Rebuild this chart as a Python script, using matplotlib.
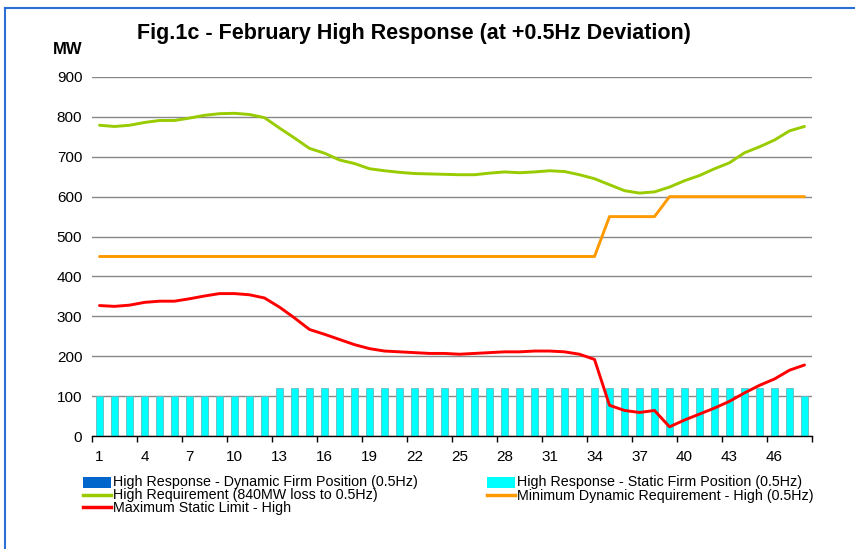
import matplotlib
matplotlib.use("Agg")
import matplotlib.pyplot as plt
from matplotlib.lines import Line2D
from matplotlib.patches import Rectangle
import numpy as np

plt.rcParams['font.family'] = ['Liberation Sans', 'DejaVu Sans']

periods = list(range(1, 49))
xtick_labels = [str(p) for p in range(1, 49, 3)]

dynamic_firm = [0] * 48
static_firm = [100] * 12 + [120] * 35 + [100]
high_requirement = [779, 776, 779, 786, 791, 791, 797, 804, 808, 809, 806, 798,
                    772, 747, 721, 709, 692, 683, 670, 665, 661, 658, 657, 656,
                    655, 655, 659, 662, 660, 662, 665, 663, 655, 645, 630, 615,
                    609, 612, 624, 640, 653, 670, 685, 710, 725, 742, 765, 776]
min_dynamic = [450] * 34 + [550] * 4 + [600] * 10
max_static = [327, 325, 328, 335, 338, 338, 344, 351, 357, 357, 354, 346,
              323, 296, 267, 255, 242, 229, 219, 213, 211, 209, 207, 207,
              205, 207, 209, 211, 211, 213, 213, 211, 205, 192, 77, 64,
              59, 64, 23, 40, 55, 70, 87, 108, 127, 143, 165, 178]

labels = ["High Response - Dynamic Firm Position (0.5Hz)",
          "High Response - Static Firm Position (0.5Hz)",
          "High Requirement (840MW loss to 0.5Hz)",
          "Minimum Dynamic Requirement - High (0.5Hz)",
          "Maximum Static Limit - High"]

W, H = 855, 549
fig = plt.figure(figsize=(W / 100, H / 100), dpi=100)
ax = fig.add_axes([92 / W, 1 - 436 / H, (812 - 92) / W, (436 - 77) / H])

x = np.array(periods)
ax.bar(x, dynamic_firm, width=0.47, color='#0066CC', zorder=2)
ax.bar(x, static_firm, width=0.47, color='#00FFFF', edgecolor='#66BBBB', linewidth=0.6, zorder=2)
ax.plot(x, high_requirement, color='#99CC00', lw=2.1, zorder=3, solid_capstyle='round')
ax.plot(x, min_dynamic, color='#FF9900', lw=2.1, zorder=3, solid_capstyle='round')
ax.plot(x, max_static, color='#FF0000', lw=2.1, zorder=3, solid_capstyle='round')

ax.set_xlim(0.5, 48.5)
ax.set_ylim(0, 900)
ax.set_yticks(range(0, 901, 100))
ax.yaxis.grid(True, color='#888888', lw=1.0, zorder=0)
ax.set_axisbelow(True)
ax.tick_params(axis='y', length=0, pad=7, labelsize=11)

ax.set_xticks(np.arange(0.5, 48.6, 3))
ax.set_xticklabels([])
ax.tick_params(axis='x', which='major', length=4, width=1, color='black', direction='out')
ax.set_xticks(range(1, 49, 3), minor=True)
ax.set_xticklabels(xtick_labels, minor=True)
ax.tick_params(axis='x', which='minor', length=0, pad=10, labelsize=11)

for s in ['left', 'right', 'top']:
    ax.spines[s].set_visible(False)
ax.spines['bottom'].set_color('black')
ax.spines['bottom'].set_linewidth(1.0)

fig.text(414 / W, 1 - 33 / H, "Fig.1c - February High Response (at +0.5Hz Deviation)",
         ha='center', va='center', fontsize=15.5, fontweight='bold')
fig.text(68 / W, 1 - 49 / H, "MW", ha='center', va='center', fontsize=12, fontweight='bold')

# legend (drawn manually, each column as one multi-line text)
def fx(px):
    return px / W

def fy(py):
    return 1 - py / H

leg_fs = 10.3
row_y = [482.5, 494.75, 507]
col_x = [83, 487]
handles = [
    ('patch', '#0066CC', 0, 0),
    ('patch', '#00FFFF', 1, 0),
    ('line', '#99CC00', 0, 1),
    ('line', '#FF9900', 1, 1),
    ('line', '#FF0000', 0, 2),
]
for kind, col, c, r in handles:
    px, py = col_x[c], row_y[r]
    if kind == 'patch':
        fig.patches.append(Rectangle((fx(px), fy(py + 5.5)), 28 / W, 11 / H, transform=fig.transFigure,
                                     facecolor=col, edgecolor='none'))
    else:
        fig.add_artist(Line2D([fx(px), fx(px + 28)], [fy(py), fy(py)], transform=fig.transFigure,
                              color=col, lw=2.5))

col1_text = "\n".join([labels[0], labels[2], labels[4]])
col2_text = "\n".join([labels[1], labels[3]])
# va='baseline' on multi-line text aligns the last line's baseline
fig.text(fx(col_x[0] + 30), fy(row_y[2] + 4.8), col1_text, ha='left', va='baseline',
         fontsize=leg_fs, linespacing=0.915, multialignment='left')
fig.text(fx(col_x[1] + 30), fy(row_y[1] + 4.8), col2_text, ha='left', va='baseline',
         fontsize=leg_fs, linespacing=0.915, multialignment='left')

# border
fig.add_artist(Line2D([fx(5), fx(855)], [fy(8), fy(8)], transform=fig.transFigure, color='#2A6FD6', lw=1.5))
fig.add_artist(Line2D([fx(5), fx(5)], [fy(8), fy(549)], transform=fig.transFigure, color='#2A6FD6', lw=1.5))

fig.savefig("out.png", dpi=100)
